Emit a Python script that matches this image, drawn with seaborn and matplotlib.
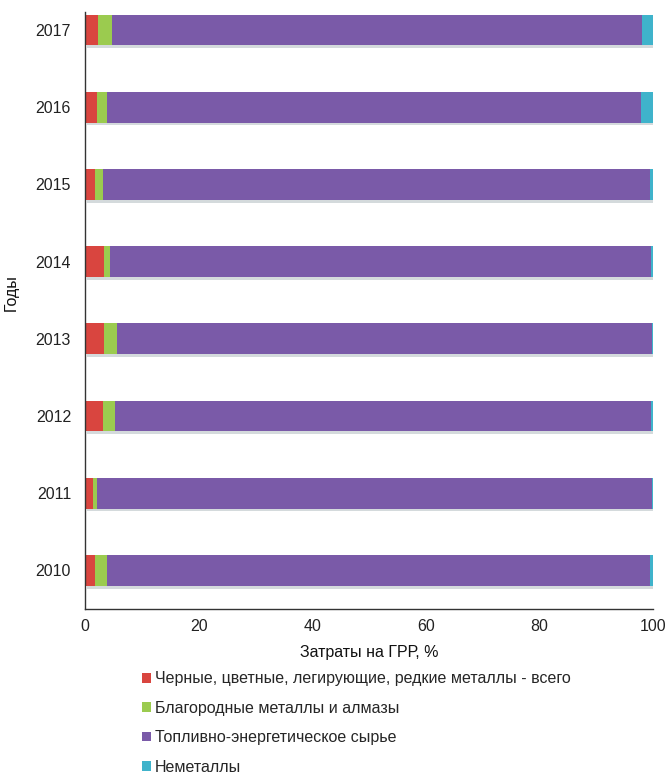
import matplotlib
matplotlib.use("Agg")
import matplotlib.pyplot as plt
import matplotlib.patheffects as pe
from matplotlib.patches import Patch
import numpy as np
import pandas as pd
import seaborn as sns

years = ["2017", "2016", "2015", "2014", "2013", "2012", "2011", "2010"]
ferrous = [2.35, 2.2, 1.75, 3.35, 3.35, 3.1, 1.45, 1.75]
precious = [2.35, 1.6, 1.35, 1.05, 2.25, 2.2, 0.75, 2.05]
nonmetals = [2.0, 2.2, 0.5, 0.3, 0.15, 0.4, 0.15, 0.5]
fuel = [100 - a - b - c for a, b, c in zip(ferrous, precious, nonmetals)]

labels = ["Черные, цветные, легирующие, редкие металлы - всего",
          "Благородные металлы и алмазы",
          "Топливно-энергетическое сырье",
          "Неметаллы"]
colors = ["#d9453f", "#9bcb4f", "#7a5aa8", "#3fb3cb"]

sns.set_theme(style="white")
plt.rcParams["font.family"] = ["Liberation Sans", "DejaVu Sans"]

FS = 11.5

df = pd.DataFrame({"year": years, "ferrous": ferrous, "precious": precious,
                   "fuel": fuel, "nonmetals": nonmetals})
cols = ["ferrous", "precious", "fuel", "nonmetals"]
cum = df[cols].cumsum(axis=1)

fig = plt.figure(figsize=(6.67, 7.78), dpi=100)
ax = fig.add_axes([85 / 667, 1 - 609 / 778, 568 / 667, 597 / 778])

for i in range(3, -1, -1):
    d = pd.DataFrame({"year": years, "val": cum[cols[i]].values})
    sns.barplot(data=d, x="val", y="year", order=years, color=colors[i],
                width=0.4, ax=ax, saturation=1, orient="h")

for k, p in enumerate(ax.patches):
    p.set_linewidth(0)
    if k < len(years):
        p.set_path_effects([pe.SimplePatchShadow(offset=(1.5, -2), alpha=0.18),
                            pe.Normal()])

ax.set_xlim(0, 100)
ax.set_ylim(7.5, -0.233)
ax.set_xticks([0, 20, 40, 60, 80, 100])
ax.tick_params(axis="both", labelsize=FS, length=0, colors="#222222")
ax.tick_params(axis="y", pad=10)
ax.tick_params(axis="x", pad=7)
for s in ["top", "right"]:
    ax.spines[s].set_visible(False)
for s in ["left", "bottom"]:
    ax.spines[s].set_color("#333333")
    ax.spines[s].set_linewidth(1.0)

ax.set_xlabel("Затраты на ГРР, %", fontsize=FS, labelpad=8, color="#111111")
ax.set_ylabel("Годы", fontsize=FS, color="#111111")
ax.yaxis.set_label_coords((19 - 85) / 568, (609 - 293) / 597)

handles = [Patch(facecolor=c, edgecolor="none") for c in colors]
fig.legend(handles, labels, loc="upper left", bbox_to_anchor=(136 / 667, 1 - 665 / 778),
           frameon=False, fontsize=FS, handlelength=0.55, handleheight=0.55,
           handletextpad=0.25, labelspacing=0.9, borderaxespad=0)

fig.savefig("out.png", dpi=100)
